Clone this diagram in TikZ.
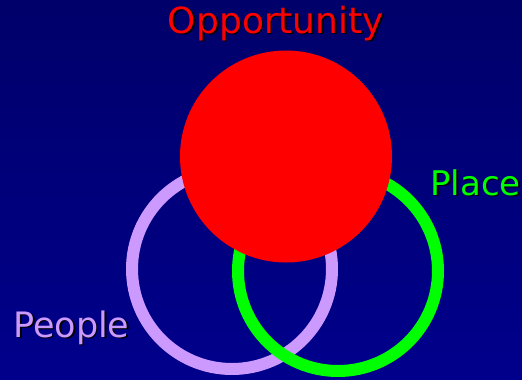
\documentclass[tikz,border=0pt]{standalone}
\usepackage{fontspec}
\usepackage{tkz-euclide}
\setmainfont{DejaVu Sans}
\definecolor{bgtop}{RGB}{0,0,106}
\definecolor{bgbottom}{RGB}{0,0,140}
\definecolor{peoplecol}{RGB}{204,153,255}
\definecolor{placecol}{RGB}{0,255,0}
\tikzset{>=stealth}
\tikzset{ring/.style={line width=12pt},
  word/.style={font=\fontsize{34}{40}\selectfont, inner sep=0pt}}
\newcommand{\shadowed}[2]{\makebox[0pt][l]{\hspace{1.8pt}\raisebox{-1.8pt}{\color{black}#2}}{\color{#1}#2}}

\begin{document}
\begin{tikzpicture}[x=1pt,y=-1pt]
    \path[use as bounding box, top color=bgtop, bottom color=bgbottom] (0,0) rectangle (522,380);
    \tkzDefPoints{286/156.5/O, 232/269/P, 338/271/Q}
    \draw[ring, peoplecol] (P) circle[radius=100];
    \draw[ring, placecol] (Q) circle[radius=100];
    \fill[red] (O) circle[radius=106];
    \node[word, font=\fontsize{36}{42}\selectfont, anchor=base] (opp) at (276,33) {\shadowed{red}{Opportunity}};
    \node[word, anchor=base west] (place) at (430,195) {\shadowed{placecol}{Place}};
    \node[word, font=\fontsize{35}{41}\selectfont, anchor=base west] (people) at (13,337) {\shadowed{peoplecol}{People}};
    \end{tikzpicture}
\end{document}
